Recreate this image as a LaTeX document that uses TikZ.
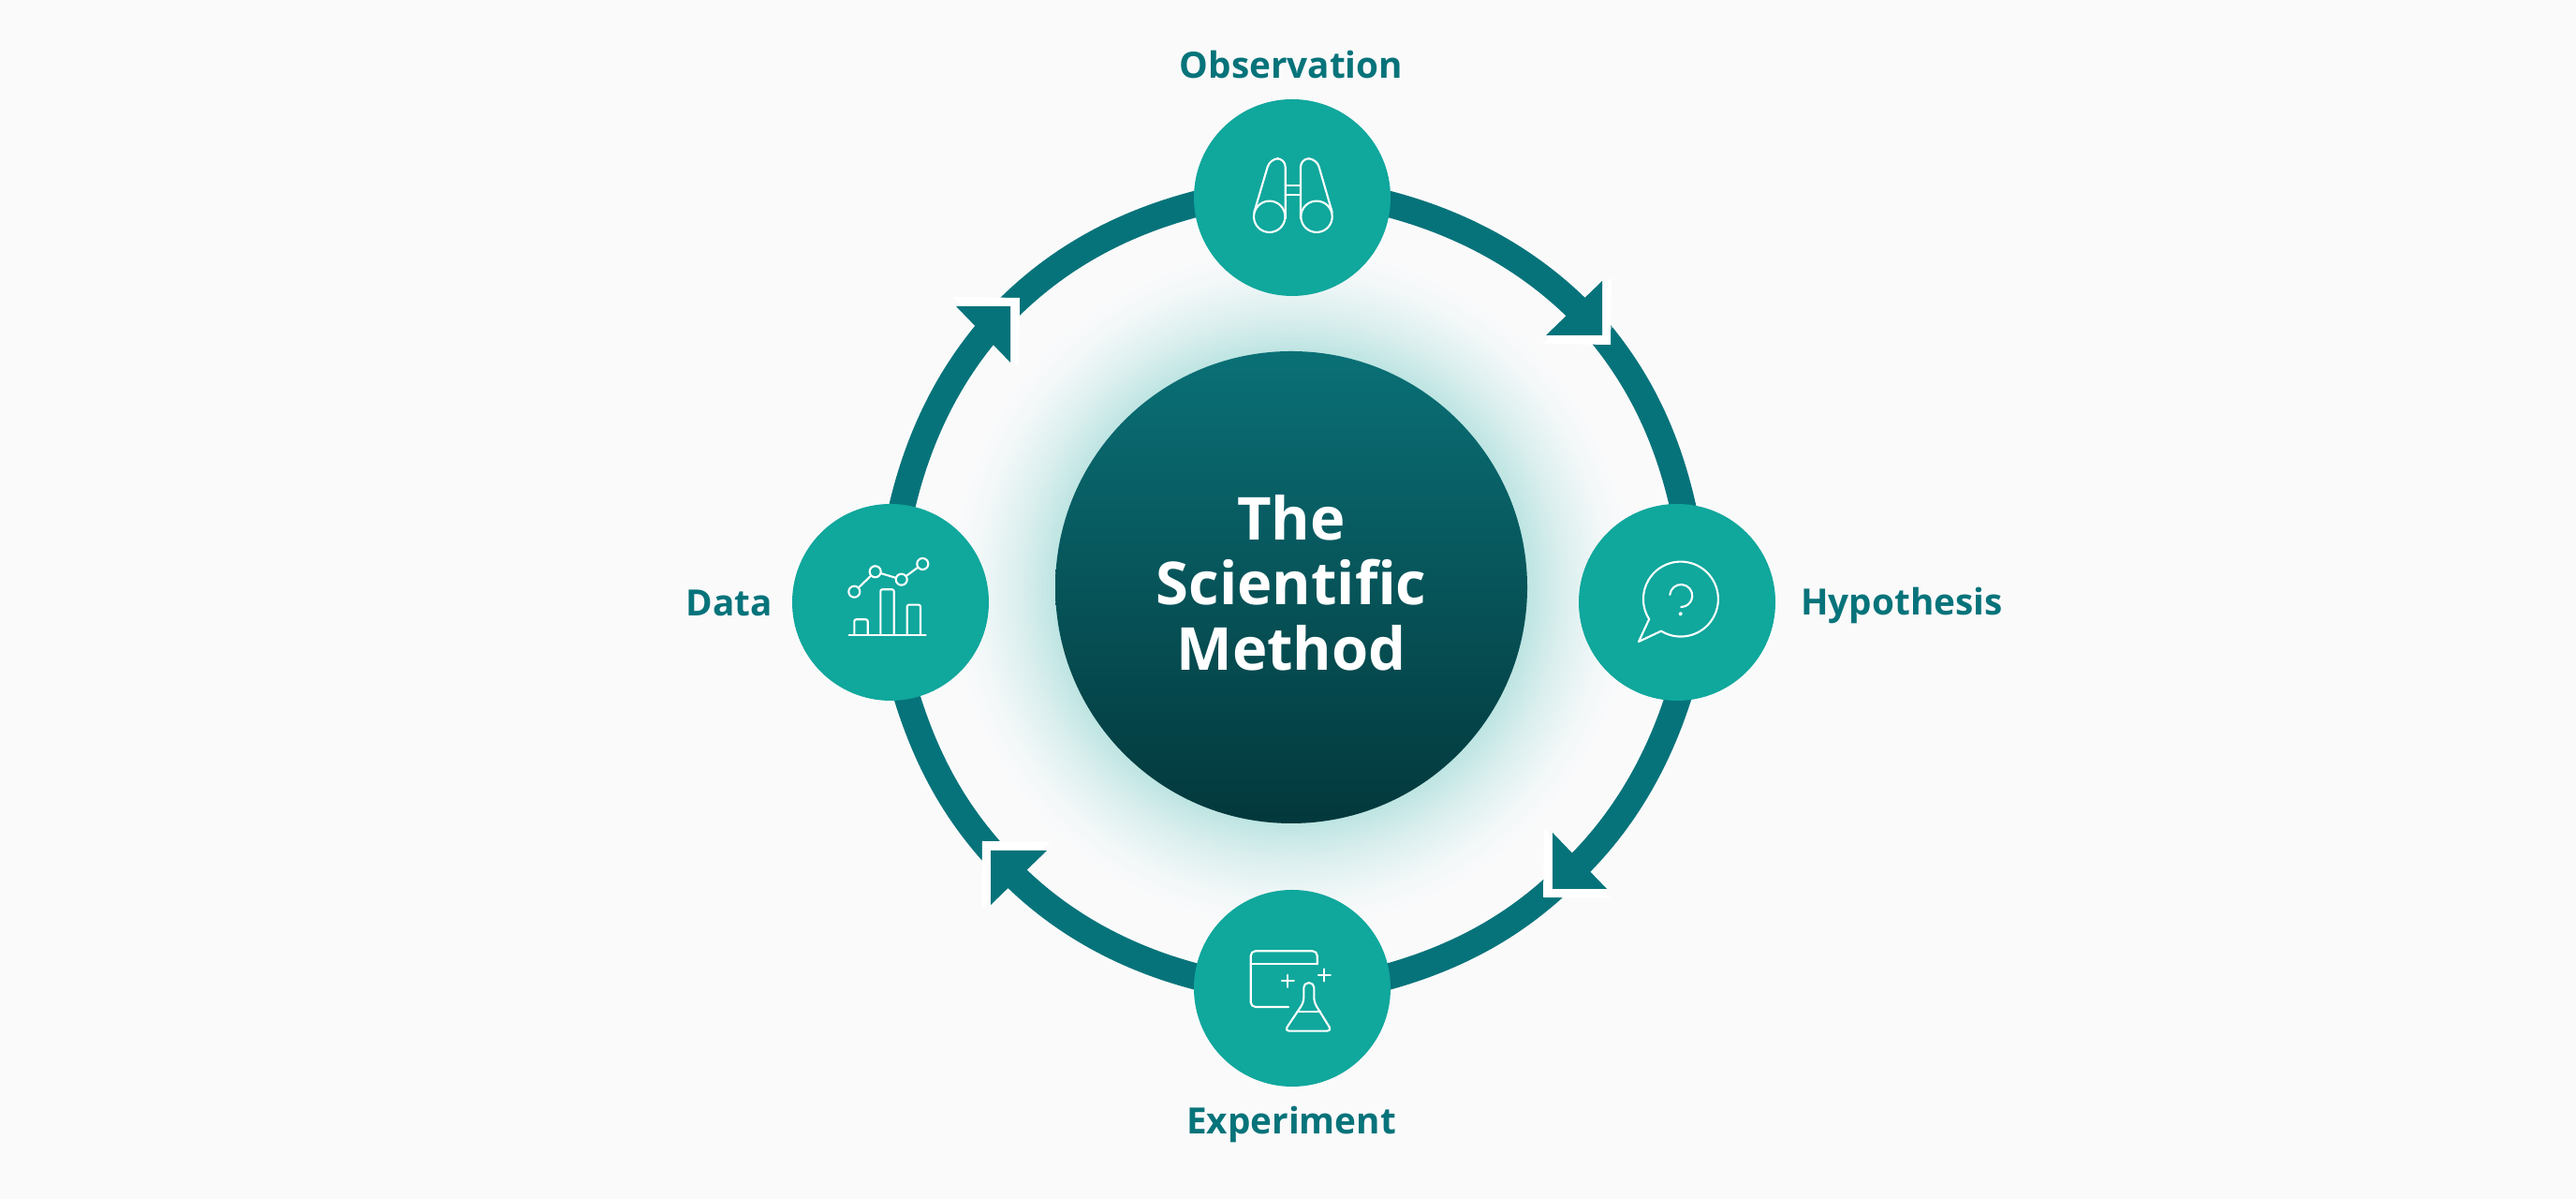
\documentclass[tikz,border=0pt]{standalone}
\usepackage{fontspec}
\setmainfont{Open Sans}
\usepackage{xcolor}
\usepackage{tikz}
\usetikzlibrary{arrows.meta,positioning,calc}

\definecolor{pagebg}{HTML}{FAFAFB}
\definecolor{ringteal}{HTML}{06737A}
\definecolor{stepteal}{HTML}{10A79C}
\definecolor{coretop}{HTML}{0A7076}
\definecolor{corebot}{HTML}{03383C}
\pgfdeclareradialshading{halofade}{\pgfpointorigin}{color(0bp)=(stepteal!27!pagebg); color(17bp)=(stepteal!27!pagebg); color(20bp)=(stepteal!13!pagebg); color(23bp)=(stepteal!3!pagebg); color(25bp)=(pagebg); color(50bp)=(pagebg)}

\begin{document}
\begin{tikzpicture}[
  stepnode/.style={circle, fill=stepteal, minimum size=2.1cm, inner sep=0pt},
  corenode/.style={circle, top color=coretop, bottom color=corebot, minimum size=5.04cm, inner sep=0pt},
  titlenode/.style={align=center, text=white, font=\fontsize{18}{19.8}\selectfont\bfseries},
  halonode/.style={circle, shading=halofade, minimum size=7.3cm, inner sep=0pt},
  steplabel/.style={text=ringteal, font=\fontsize{11}{14}\selectfont\bfseries},
  ring/.style={draw=ringteal, line width=0.28cm, looseness=0.87},
  fromnode/.style={shorten <=-0.12cm},
  tonode/.style={shorten >=-0.12cm},
  icon/.style={draw=white, line width=0.6pt, line join=round, line cap=round},
  plotdot/.style={circle, draw=white, line width=0.6pt, minimum size=0.12cm, inner sep=0pt},
]

% ========= Page =========
\fill[pagebg] (0,0) rectangle (27.51,12.80);

% ========= Center =========
\node[halonode] at (13.79, 6.53) (halo) {};
\node[corenode] at (13.79, 6.53) (core) {};
\node[titlenode] at (13.79, 6.58) (title) {The\\Scientific\\Method};

% ========= Steps and arrow tips =========
\path (13.80, 10.69) node[stepnode, fill=none] (obs) {};
\path (17.91, 6.37) node[stepnode, fill=none] (hyp) {};
\path (13.80, 2.25) node[stepnode, fill=none] (expt) {};
\path (9.51, 6.37) node[stepnode, fill=none] (dat) {};
\coordinate (tipa) at (17.11, 9.22);
\coordinate (tipb) at (16.58, 3.31);
\coordinate (tipc) at (10.58, 3.72);
\coordinate (tipd) at (10.79, 9.53);

% ========= Ring =========
\draw[ring, fromnode] (obs.-4) to[bend left=18] (tipa);
\draw[ring, tonode] (tipa) to[bend left=13.5] (hyp.87);
\draw[ring, fromnode] (hyp.-90) to[bend left=16.5] (tipb);
\draw[ring, tonode] (tipb) to[bend left=13.5] (expt.7);
\draw[ring, fromnode] (expt.173) to[bend left=18] (tipc);
\draw[ring, tonode] (tipc) to[bend left=12.5] (dat.-80);
\draw[ring, fromnode] (dat.83) to[bend left=16.25] (tipd);
\draw[ring, tonode] (tipd) to[bend left=15.25] (obs.184);

% ========= Arrow heads =========
\foreach \tip/\ang in {tipa/0, tipb/-90, tipc/180, tipd/90} {
  \begin{scope}[shift={(\tip)}, rotate=\ang]
    \fill[white] (0.09,-0.10) -- (0.10,0.62) -- (-0.64,-0.09) -- cycle;
    \fill[ringteal] (0,0) -- (0,0.58) -- (-0.60,0) -- cycle;
  \end{scope}
}

% ========= Step circles =========
\node[stepnode] at (obs) {};
\node[stepnode] at (hyp) {};
\node[stepnode] at (expt) {};
\node[stepnode] at (dat) {};

% ========= Labels =========
\node[steplabel] at (13.79, 12.11) (obslabel) {Observation};
\node[steplabel] at (20.31, 6.34) (hyplabel) {Hypothesis};
\node[steplabel] at (13.79, 0.80) (exptlabel) {Experiment};
\node[steplabel] at (7.79, 6.36) (datlabel) {Data};

% ========= Icon: binoculars =========
\begin{scope}[shift={(obs.center)}]
  \draw[icon] (-0.243,-0.203) circle (0.167);
  \draw[icon] (0.26,-0.203) circle (0.167);
  \draw[icon, rounded corners=0.09cm] (-0.407,-0.157) -- (-0.237,0.417) -- (-0.073,0.417) -- (-0.073,-0.223);
  \draw[icon, rounded corners=0.09cm] (0.427,-0.157) -- (0.26,0.417) -- (0.09,0.417) -- (0.09,-0.223);
  \draw[icon] (-0.073,0.133) -- (0.09,0.133);
  \draw[icon] (-0.073,0.027) -- (0.09,0.027);
\end{scope}

% ========= Icon: speech bubble =========
\begin{scope}[shift={(hyp.center)}]
  \draw[icon] (-0.297,-0.177) -- (-0.41,-0.42) -- (-0.17,-0.307)
    arc[start angle=238.5, end angle=571.8, radius=0.4] -- cycle;
  \draw[icon] (-0.077,0.08) arc[start angle=175, end angle=-90, radius=0.12];
  \fill[white] (0.037,-0.123) circle (0.02);
\end{scope}

% ========= Icon: window and flask =========
\begin{scope}[shift={(expt.center)}]
  \draw[icon, rounded corners=0.05cm] (0.267,0.257) -- (0.267,0.397) -- (-0.443,0.397) -- (-0.443,-0.2) -- (-0.04,-0.2);
  \draw[icon] (-0.443,0.257) -- (0.267,0.257);
  \draw[icon] (-0.112,0.077) -- (0.018,0.077) (-0.047,0.012) -- (-0.047,0.142);
  \draw[icon] (0.278,0.14) -- (0.408,0.14) (0.343,0.075) -- (0.343,0.205);
  \draw[icon, rounded corners=0.05cm] (0.123,-0.05) -- (0.123,0.057) -- (0.233,0.057) -- (0.233,-0.15)
    -- (0.423,-0.457) -- (-0.083,-0.457) -- (0.123,-0.15) -- cycle;
  \draw[icon] (0.057,-0.25) -- (0.3,-0.25);
\end{scope}

% ========= Icon: chart =========
\begin{scope}[shift={(dat.center)}]
  \node[plotdot] at (-0.387,0.113) (pa) {};
  \node[plotdot] at (-0.163,0.327) (pb) {};
  \node[plotdot] at (0.117,0.243) (pc) {};
  \node[plotdot] at (0.343,0.41) (pd) {};
  \draw[icon] (pa) -- (pb);
  \draw[icon] (pb) -- (pc);
  \draw[icon] (pc) -- (pd);
  \draw[icon, rounded corners=0.02cm] (-0.387,-0.347) -- (-0.387,-0.183) -- (-0.243,-0.183) -- (-0.243,-0.347);
  \draw[icon, rounded corners=0.02cm] (-0.107,-0.347) -- (-0.107,0.137) -- (0.037,0.137) -- (0.037,-0.347);
  \draw[icon, rounded corners=0.02cm] (0.177,-0.347) -- (0.177,-0.027) -- (0.32,-0.027) -- (0.32,-0.347);
  \draw[icon] (-0.443,-0.347) -- (0.377,-0.347);
\end{scope}

\end{tikzpicture}
\end{document}
